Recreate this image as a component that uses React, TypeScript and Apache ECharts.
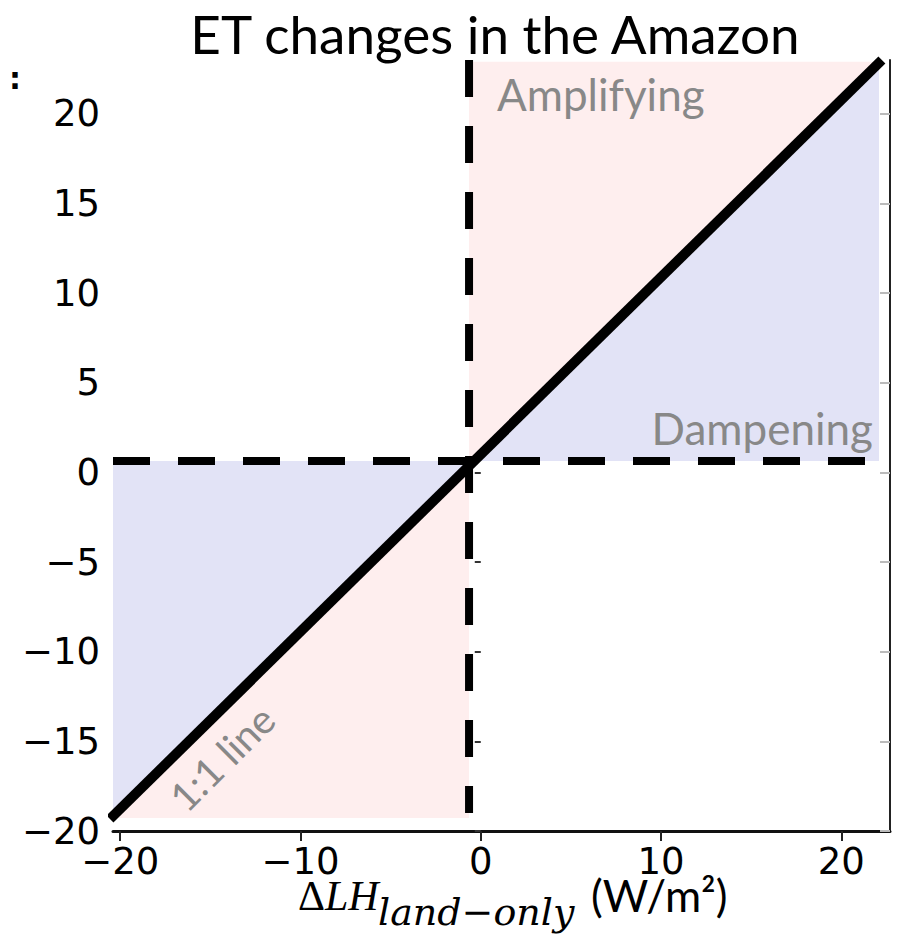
import React, { useEffect, useRef } from "react";
import * as echarts from "echarts";

const titleText = "ET changes in the Amazon";
const xTickValues = [-20, -10, 0, 10, 20];
const yTickValues = [-20, -15, -10, -5, 0, 5, 10, 15, 20];
const xLimits = [-20.4, 22.7];
const yLimits = [-20, 23];
const splitPoint = [-0.65, 0.64];
const shadeX = [-20.4, 22.09];
const shadeY = [-19.27, 22.9];
const oneToOneLine = [
  [-20.57, -19.33],
  [22.25, 23.0],
];
const horizontalDash = [
  [-20.4, 0.64],
  [21.37, 0.64],
];
const verticalDash = [
  [-0.65, 23.0],
  [-0.65, -19.0],
];

const PINK = "#FEEEEE";
const BLUE = "#E2E3F6";
const GRAY = "#888888";

const fmt = (v: number) => (v < 0 ? "\u2212" + Math.abs(v) : String(v));

export default function App() {
  const ref = useRef<HTMLDivElement>(null);
  useEffect(() => {
    document.body.style.margin = "0";
    const chart = echarts.init(ref.current!, null, { renderer: "svg" });
    const [sx, sy] = splitPoint;
    const C = [sx, sy];
    const polygons = [
      { pts: [C, [sx, shadeY[1]], [shadeX[1], shadeY[1]]], color: PINK },
      { pts: [C, [sx, shadeY[0]], [shadeX[0], shadeY[0]]], color: PINK },
      { pts: [C, [shadeX[1], shadeY[1]], [shadeX[1], sy]], color: BLUE },
      { pts: [C, [shadeX[0], sy], [shadeX[0], shadeY[0]]], color: BLUE },
    ];
    chart.setOption({
      animation: false,
      grid: { left: 113, right: 7, top: 60, bottom: 116 },
      xAxis: {
        type: "value",
        min: xLimits[0],
        max: xLimits[1],
        splitLine: { show: false },
        axisLine: { show: true, onZero: false, lineStyle: { color: "#111", width: 3 } },
        axisTick: {
          show: true,
          inside: false,
          length: 10,
          customValues: xTickValues,
          lineStyle: { color: "#222", width: 2 },
        },
        axisLabel: {
          customValues: xTickValues,
          formatter: fmt,
          fontFamily: "DejaVu Sans",
          fontSize: 37,
          lineHeight: 30,
          color: "#000",
          margin: 15,
        },
      },
      yAxis: [
        {
          type: "value",
          min: yLimits[0],
          max: yLimits[1],
          splitLine: { show: false },
          axisLine: { show: false },
          axisTick: {
            show: true,
            length: 6,
            customValues: yTickValues,
            lineStyle: { color: "#333", width: 2 },
          },
          axisLabel: {
            customValues: yTickValues,
            formatter: fmt,
            fontFamily: "DejaVu Sans",
            fontSize: 37,
            lineHeight: 34,
            color: "#000",
            margin: 13,
          },
        },
        {
          type: "value",
          position: "right",
          min: yLimits[0],
          max: yLimits[1],
          splitLine: { show: false },
          axisLine: { show: true, onZero: false, lineStyle: { color: "#222", width: 2 } },
          axisTick: {
            show: true,
            inside: true,
            length: 10,
            customValues: yTickValues,
            lineStyle: { color: "#bbb", width: 2 },
          },
          axisLabel: { show: false },
        },
      ],
      series: [
        {
          type: "custom",
          coordinateSystem: "cartesian2d",
          z: 1,
          silent: true,
          data: polygons.map((p) => p.pts[0]),
          renderItem: (params: any, api: any) => {
            const poly = polygons[params.dataIndex];
            return {
              type: "polygon",
              shape: { points: poly.pts.map((pt) => api.coord(pt)) },
              style: { fill: poly.color },
            };
          },
        },
        {
          type: "line",
          z: 3,
          symbol: "none",
          silent: true,
          data: horizontalDash,
          lineStyle: { color: "#000", width: 8, type: [37, 28], cap: "butt" },
        },
        {
          type: "line",
          z: 3,
          symbol: "none",
          silent: true,
          data: verticalDash,
          lineStyle: { color: "#000", width: 8, type: [37, 29], cap: "butt" },
        },
        {
          type: "line",
          z: 4,
          symbol: "none",
          silent: true,
          clip: false,
          data: oneToOneLine,
          lineStyle: { color: "#000", width: 10, cap: "butt" },
        },
      ],
      graphic: [
        {
          type: "text",
          x: 495,
          y: 33,
          z: 10,
          style: {
            text: titleText,
            font: "53px Lato",
            fill: "#000",
            align: "center",
            verticalAlign: "middle",
          },
        },
        {
          type: "text",
          x: 497,
          y: 94,
          z: 10,
          style: {
            text: "Amplifying",
            font: "44px Lato",
            fill: GRAY,
            align: "left",
            verticalAlign: "middle",
          },
        },
        {
          type: "text",
          x: 873,
          y: 428,
          z: 10,
          style: {
            text: "Dampening",
            font: "44px Lato",
            fill: GRAY,
            align: "right",
            verticalAlign: "middle",
          },
        },
        {
          type: "text",
          x: 222,
          y: 758,
          rotation: Math.PI / 4,
          z: 10,
          style: {
            text: "1:1 line",
            font: "40px Lato",
            fill: GRAY,
            align: "center",
            verticalAlign: "middle",
          },
        },
        {
          type: "text",
          x: 15,
          y: 78,
          z: 10,
          style: { text: ":", font: "bold 30px DejaVu Sans", fill: "#000", align: "center", verticalAlign: "middle" },
        },
        {
          type: "text",
          x: 298,
          y: 896,
          z: 10,
          style: {
            text: "{d|\u0394}{i|LH}",
            verticalAlign: "middle",
            rich: {
              d: { fontFamily: "Liberation Serif", fontSize: 42, lineHeight: 30, fill: "#000" },
              i: { fontFamily: "Liberation Serif", fontStyle: "italic", fontSize: 42, lineHeight: 30, fill: "#000" },
            },
          } as any,
        },
        {
          type: "text",
          x: 378,
          y: 912,
          z: 10,
          style: {
            text: "land\u2212only",
            fontFamily: "DejaVu Serif",
            fontStyle: "italic",
            fontSize: 38,
            lineHeight: 28,
            fill: "#000",
            verticalAlign: "middle",
          } as any,
        },
        {
          type: "text",
          x: 591,
          y: 895,
          z: 10,
          style: {
            text: "(W/m\u00B2)",
            fontFamily: "Lato",
            fontSize: 44,
            lineHeight: 30,
            fill: "#000",
            verticalAlign: "middle",
          } as any,
        },
      ],
    });
    return () => chart.dispose();
  }, []);
  return <div ref={ref} style={{ width: 897, height: 947 }} />;
}
